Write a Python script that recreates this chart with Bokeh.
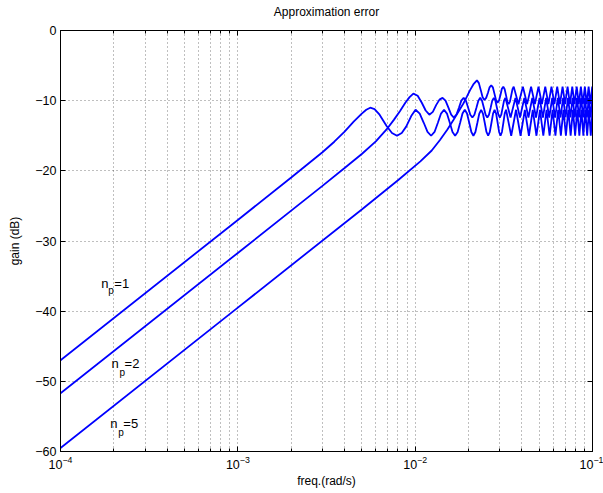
from bokeh.plotting import figure
from bokeh.models import Range1d, FixedTicker, LogAxis, LinearAxis, LogTickFormatter
from bokeh.embed import file_html
from bokeh.resources import INLINE
from bokeh.core.properties import value

# ---------------- data ----------------
# n_p = 1
f1 = [1e-4, 1e-3, 2e-3, 3e-3, 3.5e-3, 4e-3, 4.5e-3, 5e-3, 5.3e-3, 5.58e-3, 5.9e-3, 6.3e-3,
      6.9e-3, 7.4e-3, 7.9e-3, 8.4e-3, 8.9e-3, 9.5e-3, 0.01005,
      0.01061, 0.01118, 0.01174, 0.0123, 0.01286, 0.01343, 0.01399, 0.01455,
      0.01511, 0.01568, 0.01624, 0.0168, 0.01736, 0.01793, 0.01849, 0.01905,
      0.01961, 0.02018, 0.02074, 0.0213, 0.02186, 0.02243, 0.02299, 0.02355,
      0.02411, 0.02468, 0.02524, 0.0258, 0.02636, 0.02693, 0.02749, 0.02805,
      0.02861, 0.02918, 0.02974, 0.0303, 0.03086, 0.03143, 0.03199, 0.03255,
      0.0348, 0.03705, 0.0393, 0.04155, 0.0438, 0.04605, 0.0483, 0.05055,
      0.0528, 0.05505, 0.0573, 0.05955, 0.0618, 0.06405, 0.0663, 0.06855,
      0.0708, 0.07305, 0.0753, 0.07755, 0.0798, 0.08205, 0.0843, 0.08655,
      0.0888, 0.09105, 0.0933, 0.09555, 0.0978, 0.1]
g1 = [-47.0, -27.0, -20.95, -17.35, -15.85, -14.4, -13.0, -11.85, -11.3, -11.0, -11.2, -12.0,
      -13.6, -14.6, -15.0, -14.6, -13.7, -12.2, -11.3,
      -11.84, -13.15, -14.46, -15.0, -14.46, -13.15, -11.84, -11.3,
      -11.84, -13.15, -14.46, -15.0, -14.46, -13.15, -11.84, -11.3,
      -11.84, -13.15, -14.46, -15.0, -14.46, -13.15, -11.84, -11.3,
      -11.84, -13.15, -14.46, -15.0, -14.46, -13.15, -11.84, -11.3,
      -11.84, -13.15, -14.46, -15.0, -14.46, -13.15, -11.84, -11.3,
      -15.0, -11.3, -15.0, -11.3, -15.0, -11.3, -15.0, -11.3,
      -15.0, -11.3, -15.0, -11.3, -15.0, -11.3, -15.0, -11.3,
      -15.0, -11.3, -15.0, -11.3, -15.0, -11.3, -15.0, -11.3,
      -15.0, -11.3, -15.0, -11.3, -15.0, -11.4]

# n_p = 2
f2 = [1e-4, 1e-3, 3e-3, 4e-3, 5e-3, 6e-3, 7e-3, 7.6e-3, 8.2e-3, 8.8e-3, 9.3e-3, 9.77e-3,
      0.01033, 0.0109, 0.01146, 0.01202, 0.01258, 0.01315, 0.01371, 0.01427,
      0.01483, 0.0154, 0.01596, 0.01652, 0.01708, 0.01765, 0.01821, 0.01877,
      0.01933, 0.0199, 0.02046, 0.02102, 0.02158, 0.02215, 0.02271, 0.02327,
      0.02383, 0.0244, 0.02496, 0.02552, 0.02608, 0.02665, 0.02721, 0.02777,
      0.02833, 0.0289, 0.02946, 0.03002, 0.03058, 0.03115, 0.03171, 0.03227,
      0.03452, 0.03677, 0.03902, 0.04127, 0.04352, 0.04577, 0.04802, 0.05027,
      0.05252, 0.05477, 0.05702, 0.05927, 0.06152, 0.06377, 0.06602, 0.06827,
      0.07052, 0.07277, 0.07502, 0.07727, 0.07952, 0.08177, 0.08402, 0.08627,
      0.08852, 0.09077, 0.09302, 0.09527, 0.09752, 0.09977, 0.1]
g2 = [-51.7, -31.7, -22.15, -19.6, -17.6, -15.8, -13.9, -12.7, -11.5, -10.3, -9.5, -9.0,
      -9.3, -10.3, -11.4, -12.0, -11.6, -10.6, -9.85, -9.6,
      -10.0, -11.0, -12.0, -12.4, -12.0, -11.0, -10.0, -9.6,
      -10.0, -11.0, -12.0, -12.4, -12.0, -11.0, -10.0, -9.6,
      -10.0, -11.0, -12.0, -12.4, -12.0, -11.0, -10.0, -9.6,
      -10.0, -11.0, -12.0, -12.4, -12.0, -11.0, -10.0, -9.6,
      -12.4, -9.6, -12.4, -9.6, -12.4, -9.6, -12.4, -9.6,
      -12.4, -9.6, -12.4, -9.6, -12.4, -9.6, -12.4, -9.6,
      -12.4, -9.6, -12.4, -9.6, -12.4, -9.6, -12.4, -9.6,
      -12.4, -9.6, -12.4, -9.6, -12.4, -9.6, -9.65]

# n_p = 5
f3 = [1e-4, 1e-3, 5e-3, 8e-3, 0.0107, 0.0124, 0.0138, 0.0152, 0.0164, 0.0176, 0.0187,
      0.0196, 0.0204, 0.0214, 0.0223,
      0.02287, 0.02344, 0.02401, 0.02458, 0.02514, 0.02571, 0.02628, 0.02685,
      0.02742, 0.02799, 0.02856, 0.02913, 0.02969, 0.03026, 0.03083, 0.0314,
      0.03197, 0.03254, 0.03311, 0.03368, 0.03424, 0.03481, 0.03538, 0.03595,
      0.03823, 0.0405, 0.04278, 0.04505, 0.04733, 0.0496, 0.05188, 0.05415,
      0.05643, 0.0587, 0.06098, 0.06325, 0.06553, 0.0678, 0.07008, 0.07235,
      0.07463, 0.0769, 0.07918, 0.08145, 0.08373, 0.086, 0.08828, 0.09055,
      0.09283, 0.0951, 0.09738, 0.09965, 0.1]
g3 = [-59.5, -39.5, -25.5, -21.35, -18.65, -17.1, -15.6, -14.1, -12.8, -11.5, -10.4,
      -9.4, -8.5, -7.6, -7.1,
      -7.5, -8.5, -9.5, -9.9, -9.6, -8.9, -8.1, -7.8,
      -8.1, -9.0, -9.9, -10.3, -10.0, -9.2, -8.3, -8.0,
      -8.37, -9.25, -10.13, -10.5, -10.13, -9.25, -8.37, -8.0,
      -10.5, -8.0, -10.5, -8.0, -10.5, -8.0, -10.5, -8.0,
      -10.5, -8.0, -10.5, -8.0, -10.5, -8.0, -10.5, -8.0,
      -10.5, -8.0, -10.5, -8.0, -10.5, -8.0, -10.5, -8.0,
      -10.5, -8.0, -10.5, -8.0, -8.1]

# curve annotations: "n" + subscript "p" + "=k"
label_f = [1.70e-4, 1.94e-4, 1.91e-4]
label_db = [-36.0, -47.5, -56.0]
label_tail = ["=1", "=2", "=5"]

TITLE = "Approximation error"
x_major = [1e-4, 1e-3, 1e-2, 1e-1]
x_minor = [m * d for d in [1e-4, 1e-3, 1e-2] for m in range(2, 10)]
y_major = [-60, -50, -40, -30, -20, -10, 0]

FONT = "Liberation Sans"

p = figure(width=603, height=493, x_axis_type="log",
           x_range=Range1d(1e-4, 1e-1), y_range=Range1d(-60, 0),
           output_backend="svg", toolbar_location=None,
           min_border_left=60, min_border_right=11, min_border_top=30, min_border_bottom=42)
p.background_fill_color = "white"
p.border_fill_color = "white"
p.outline_line_color = "black"
p.outline_line_width = 1

xt = FixedTicker(ticks=x_major, minor_ticks=x_minor)
yt = FixedTicker(ticks=y_major)

p.xaxis.ticker = xt
p.xaxis.formatter = LogTickFormatter()
p.yaxis.ticker = yt
p.yaxis.major_label_overrides = {v: ("\u2212%d" % -v if v < 0 else "%d" % v) for v in y_major}

p.xaxis.axis_label = "freq.(rad/s)"
p.yaxis.axis_label = "gain (dB)"
for ax in (p.xaxis, p.yaxis):
    ax.axis_label_text_font = FONT
    ax.axis_label_text_font_size = "12px"
    ax.axis_label_text_font_style = "normal"
    ax.axis_label_text_color = "black"
    ax.major_label_text_font = FONT
    ax.major_label_text_font_size = "12.5px"
    ax.major_label_text_color = "black"
    ax.major_tick_in = 5
    ax.major_tick_out = 0
    ax.axis_line_color = "black"
    ax.major_tick_line_color = "black"
p.xaxis.minor_tick_in = 3
p.xaxis.minor_tick_out = 0
p.xaxis.minor_tick_line_color = "black"
p.yaxis.minor_tick_line_color = None
p.xaxis.major_label_standoff = 4
p.xaxis.axis_label_standoff = 2
p.yaxis.major_label_standoff = 4
p.yaxis.axis_label_standoff = 10

p.xgrid.ticker = xt
p.ygrid.ticker = yt
for g in (p.xgrid, p.ygrid):
    g.grid_line_color = "black"
    g.grid_line_alpha = 0.5
    g.grid_line_dash = "1 3"
    g.grid_line_width = 1
p.xgrid.minor_grid_line_color = "black"
p.xgrid.minor_grid_line_alpha = 0.5
p.xgrid.minor_grid_line_dash = "1 3"

# top axis: box ticks, and carries the chart title as its label
top = LogAxis(ticker=xt, major_label_text_font_size="0px", major_tick_in=5, major_tick_out=0,
              minor_tick_in=3, minor_tick_out=0, major_label_standoff=0,
              major_label_overrides={v: "" for v in x_major},
              axis_label=TITLE, axis_label_text_font=FONT, axis_label_text_font_size="12px",
              axis_label_text_font_style="normal", axis_label_text_color="black",
              axis_label_standoff=12)
right = LinearAxis(ticker=yt, major_label_text_font_size="0px", major_tick_in=5, major_tick_out=0,
                   minor_tick_line_color=None, major_label_standoff=0,
                   major_label_overrides={v: "" for v in y_major})
p.add_layout(top, "above")
p.add_layout(right, "right")

for f, g in ((f1, g1), (f2, g2), (f3, g3)):
    p.line(f, g, line_color="#0000ff", line_width=1.8)

p.text(label_f, label_db, text=["n"] * 3, text_font=value(FONT), text_font_size="13px",
       text_baseline="alphabetic", text_color="black")
p.text(label_f, label_db, text=["p"] * 3, text_font=value(FONT), text_font_size="10px",
       text_baseline="alphabetic", text_color="black", x_offset=[7, 8, 8], y_offset=[7, 9, 9])
p.text(label_f, label_db, text=label_tail, text_font=value(FONT), text_font_size="13px",
       text_baseline="alphabetic", text_color="black", x_offset=[13, 13, 13])

open("out.html", "w").write(file_html(p, INLINE))
